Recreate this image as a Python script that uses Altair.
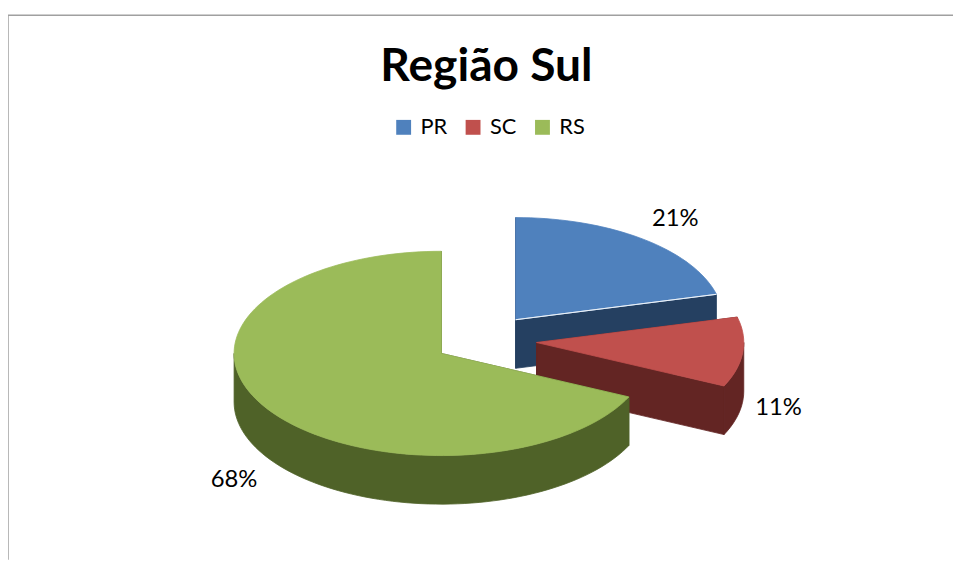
import math
import altair as alt

TITLE = "Região Sul"
STATES = ["PR", "SC", "RS"]
SHARES = [21, 11, 68]
LABELS = ["21%", "11%", "68%"]
TOP_COLORS = ["#4f81bd", "#c0504d", "#9bbb59"]
SIDE_COLORS = ["#254061", "#632523", "#4f6228"]
EDGE_COLOR = "#f4f7fb"

# layout of the exploded, tilted pie, in pixels of the plot area
CENTERS = [(512, 312), (533, 335), (437, 346)]
RX, RY = 209, 103
DEPTH = 49
LABEL_POS = [(673, 210), (777, 401), (228, 474)]


def point(cx, cy, a):
    return (cx + RX * math.sin(math.radians(a)), cy - RY * math.cos(math.radians(a)))


def rim(cx, cy, a0, a1):
    n = max(2, int(abs(a1 - a0) / 2))
    return [point(cx, cy, a0 + (a1 - a0) * i / n) for i in range(n + 1)]


def feature(ring, key):
    return {
        "type": "Feature",
        "geometry": {"type": "Polygon", "coordinates": [[list(p) for p in ring]]},
        "properties": {"k": key},
    }


def sweep(path):
    return path + [(x, y + DEPTH) for x, y in reversed(path)] + [path[0]]


features = []
start = 0.0
total = sum(SHARES)
for state, share, (cx, cy) in zip(STATES, SHARES, CENTERS):
    end = start + 360.0 * share / total
    side = state + " lado"
    # cut faces
    for a in (start, end):
        features.append(feature(sweep([(cx, cy), point(cx, cy, a)]), side))
    # front-facing part of the rim
    front0, front1 = max(start, 90.0), min(end, 270.0)
    if front1 > front0:
        features.append(feature(sweep(rim(cx, cy, front0, front1)), side))
    outline = [(cx, cy)] + rim(cx, cy, start, end) + [(cx, cy)]
    features.append(feature(outline, state))
    if state == STATES[0]:
        features.append(feature([(cx, cy), point(cx, cy, end), (cx, cy)], "borda"))
    start = end

domain = STATES + [s + " lado" for s in STATES] + ["borda"]
color_range = TOP_COLORS + SIDE_COLORS + [EDGE_COLOR]
PROJ = dict(type="identity", scale=1, translate=[0, 0])

pie = (
    alt.Chart(alt.Data(values=features))
    .mark_geoshape(strokeWidth=0.8)
    .encode(
        color=alt.Color(
            "properties.k:N",
            scale=alt.Scale(domain=domain, range=color_range),
            legend=alt.Legend(
                values=STATES,
                title=None,
                orient="none",
                legendX=388,
                legendY=107,
                direction="horizontal",
                symbolType="square",
                symbolSize=225,
                symbolStrokeWidth=0,
                labelFont="Lato",
                labelFontSize=22,
                labelColor="#000000",
                labelOffset=6,
                columnPadding=15,
            ),
        ),
        stroke=alt.Stroke(
            "properties.k:N",
            scale=alt.Scale(domain=domain, range=color_range),
            legend=None,
        ),
    )
    .project(**PROJ)
)

label_rows = [
    {"label": t, "x": p[0], "y": p[1]} for t, p in zip(LABELS, LABEL_POS)
]
labels = (
    alt.Chart(alt.Data(values=label_rows))
    .mark_text(font="Lato", fontSize=24, color="#000000", align="center", baseline="middle")
    .encode(longitude="x:Q", latitude="y:Q", text="label:N")
    .project(**PROJ)
)

frame_top = alt.Chart(alt.Data(values=[{"a": 0}])).mark_rule(color="#a0a0a0", strokeWidth=1.5).encode(
    x=alt.value(0), x2=alt.value(953), y=alt.value(5)
)
frame_left = alt.Chart(alt.Data(values=[{"a": 0}])).mark_rule(color="#a0a0a0", strokeWidth=1.5).encode(
    x=alt.value(0), y=alt.value(5), y2=alt.value(554)
)

chart = (
    alt.layer(frame_top, frame_left, pie, labels)
    .properties(
        width=953,
        height=554,
        padding=0,
        autosize=alt.AutoSizeParams(type="none"),
        title=alt.TitleParams(
            TITLE, font="Lato", fontSize=46.5, fontWeight="bold", color="#000000",
            anchor="middle", offset=-81, dx=6,
        ),
    )
    .configure_view(stroke=None)
)

chart.save("out.html", embed_options={"renderer": "svg", "actions": False})
